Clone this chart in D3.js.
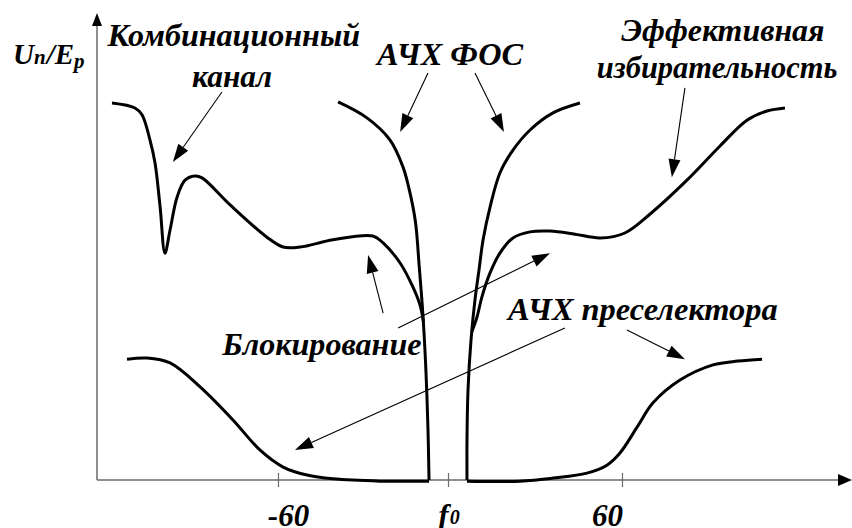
<!doctype html>
<html>

<head>
    <meta charset="UTF-8" />
    <script src="https://d3js.org/d3.v7.min.js"></script>
    <style>
        body { margin: 0; background: #fff; }
    </style>
</head>

<body>
    <script>
        // Frequency offset (kHz from f0) vs relative level Un/Ep
        const fosLeft = [[-38.8, 0.995], [-28.6, 0.953], [-20.5, 0.895], [-15.9, 0.824], [-13.8, 0.768],
            [-11.5, 0.68], [-10.2, 0.566], [-8.8, 0.429], [-7.8, 0.289], [-7.06, 0.132], [-6.7, 0]]
        const fosRight = [[45.5, 0.992], [36.2, 0.966], [28.3, 0.921], [22.4, 0.868], [17.9, 0.808],
            [14.5, 0.718], [12.1, 0.632], [10.7, 0.553], [9.3, 0.474], [7.93, 0.368], [6.9, 0.237],
            [6.55, 0.105], [6.55, 0]]
        const effLeft = [[-118.6, 0.992], [-110.5, 0.979], [-108.0, 0.961], [-105.2, 0.895], [-103.4, 0.834],
            [-101.6, 0.718], [-99.9, 0.597], [-98.1, 0.658], [-95.6, 0.745], [-92.8, 0.789], [-89.3, 0.800],
            [-86.8, 0.795], [-76.9, 0.724], [-63.9, 0.639], [-58.2, 0.613], [-52.2, 0.613], [-40.6, 0.632],
            [-26.5, 0.642], [-22.9, 0.624], [-16.9, 0.571], [-12.4, 0.508], [-9.9, 0.461], [-8.65, 0.416]]
        const effRight = [[8.2, 0.39], [10.0, 0.429], [11.7, 0.482], [14.5, 0.545], [17.9, 0.597],
            [22.4, 0.637], [28.3, 0.653], [35.2, 0.655], [43.8, 0.647], [52.4, 0.637], [61.0, 0.650],
            [69.7, 0.70], [82.4, 0.789], [93.8, 0.879], [103.1, 0.947], [110, 0.971], [116.2, 0.979]]
        const preselLeft = [[-113.3, 0.318], [-106.2, 0.321], [-98.1, 0.308], [-87.5, 0.245], [-75.9, 0.158],
            [-66.4, 0.079], [-58.2, 0.034], [-49.8, 0.013], [-40.6, 0.003], [-24, -0.003], [-6.7, -0.003]]
        const preselRight = [[6.55, -0.003], [24.8, -0.003], [36.2, 0.005], [47.9, 0.018], [54.8, 0.039],
            [59.3, 0.071], [65.2, 0.139], [70.7, 0.203], [80, 0.263], [91.4, 0.303], [100, 0.313], [108.3, 0.318]]

        const tickValues = [-60, 0, 60]
        const tickLabels = ["-60", "f", "60"]

        // annotation arrows: [from, to] in data units
        const arrows = [
            [[-79.8, 1.021], [-97.1, 0.837]],   // комбинационный канал
            [[-7.06, 1.071], [-16.9, 0.916]],   // АЧХ ФОС, left
            [[9.3, 1.071], [19.3, 0.916]],      // АЧХ ФОС, right
            [[81.7, 1.032], [77.2, 0.797]],     // эффективная избирательность
            [[-22.9, 0.439], [-28.2, 0.592]],   // блокирование, left
            [[-17.6, 0.40], [35.2, 0.597]],     // блокирование, right
            [[40.3, 0.40], [-54.0, 0.079]],     // преселектор, left
            [[61.7, 0.395], [81.7, 0.318]]      // преселектор, right
        ]

        // annotation labels: text, centre x, baseline level, width
        const labels = [
            { text: "Комбинационный", at: [-75.6, 1.142], w: 253 },
            { text: "канал", at: [-76.2, 1.034], w: 80 },
            { text: "АЧХ ФОС", at: [0.7, 1.092], w: 146 },
            { text: "Эффективная", at: [94.8, 1.155], w: 203 },
            { text: "избирательность", at: [92.8, 1.058], w: 241 },
            { text: "Блокирование", at: [-44.5, 0.329], w: 199 },
            { text: "АЧХ преселектора", at: [67.2, 0.421], w: 270 }
        ]

        const W = 852, H = 528
        const originX = 97, originY = 480
        const fontFamily = "'Liberation Serif'"

        const x = d3.scaleLinear().domain([-60, 0, 60]).range([278, 448, 622])
        const y = d3.scaleLinear().domain([0, 1]).range([originY, 100])

        const svg = d3.select("body").append("svg")
            .attr("width", W)
            .attr("height", H)

        function serifText(sel, size) {
            return sel.style("font-family", fontFamily)
                .style("font-weight", "bold")
                .style("font-style", "italic")
                .style("font-size", size + "px")
                .attr("fill", "#000")
        }

        // axes
        const axisColor = "#6a6a6a"
        svg.append("line")
            .attr("x1", originX).attr("y1", originY)
            .attr("x2", originX).attr("y2", 24)
            .attr("stroke", axisColor).attr("stroke-width", 1.5)
        svg.append("path")
            .attr("d", `M${originX},13 L${originX - 5},26 L${originX + 5},26 Z`)
            .attr("fill", "#000")

        svg.append("line")
            .attr("x1", originX).attr("y1", originY)
            .attr("x2", W - 10).attr("y2", originY)
            .attr("stroke", axisColor).attr("stroke-width", 1.5)
        svg.append("path")
            .attr("d", `M${W},${originY} L${W - 14},${originY - 6} L${W - 14},${originY + 6} Z`)
            .attr("fill", "#000")

        const xAxis = svg.append("g")
            .attr("transform", `translate(0,${originY})`)
            .call(d3.axisBottom(x).tickValues(tickValues).tickSize(7).tickFormat(""))
        xAxis.select(".domain").remove()
        xAxis.selectAll(".tick line")
            .attr("y1", -7).attr("y2", 7)
            .attr("stroke", axisColor).attr("stroke-width", 1.2)

        const labelShift = [10.5, 1, -14.5]
        tickValues.forEach((v, i) => {
            const t = serifText(svg.append("text"), 31)
                .attr("x", x(v) + labelShift[i])
                .attr("y", 526)
                .attr("text-anchor", "middle")
                .text(tickLabels[i])
            if (tickLabels[i] === "f") {
                t.append("tspan").style("font-size", "20px").attr("dx", 1).attr("dy", -2).text("0")
            }
            t.node().getComputedTextLength() // forces the font to be resolved
        })

        // y label Un/Ep
        const yl = serifText(svg.append("text"), 29)
            .attr("x", 13).attr("y", 64)
        yl.append("tspan").text("U")
        yl.append("tspan").style("font-size", "21px").text("n")
        yl.append("tspan").attr("dx", 1).text("/E")
        yl.append("tspan").style("font-size", "21px").attr("dy", 4).text("p")
        yl.node().getComputedTextLength()

        // curves
        const line = d3.line()
            .x(d => x(d[0]))
            .y(d => y(d[1]))
            .curve(d3.curveCatmullRom.alpha(0.5))

        const curves = [fosLeft, fosRight, effLeft, effRight, preselLeft, preselRight]
        svg.selectAll(".curve")
            .data(curves)
            .enter()
            .append("path")
            .attr("class", "curve")
            .attr("d", line)
            .attr("fill", "none")
            .attr("stroke", "#000")
            .attr("stroke-width", 3)
            .attr("stroke-linejoin", "round")

        // arrows
        const headLen = 18, headHalf = 6
        arrows.forEach(([from, to]) => {
            const x1 = x(from[0]), y1 = y(from[1])
            const x2 = x(to[0]), y2 = y(to[1])
            const len = Math.hypot(x2 - x1, y2 - y1)
            const ux = (x2 - x1) / len, uy = (y2 - y1) / len
            const bx = x2 - ux * headLen, by = y2 - uy * headLen
            svg.append("line")
                .attr("x1", x1).attr("y1", y1)
                .attr("x2", bx).attr("y2", by)
                .attr("stroke", "#000").attr("stroke-width", 1.1)
            svg.append("path")
                .attr("d", `M${x2},${y2} L${bx - uy * headHalf},${by + ux * headHalf} L${bx + uy * headHalf},${by - ux * headHalf} Z`)
                .attr("fill", "#000")
        })

        // labels: size each one so its natural width matches the picture
        labels.forEach(d => {
            const t = serifText(svg.append("text"), 30)
                .attr("x", x(d.at[0]))
                .attr("y", y(d.at[1]))
                .attr("text-anchor", "middle")
                .text(d.text)
            const natural = t.node().getComputedTextLength()
            const size = Math.max(24, Math.min(34, 30 * d.w / natural))
            t.style("font-size", size.toFixed(1) + "px")
        })
    </script>
</body>

</html>
